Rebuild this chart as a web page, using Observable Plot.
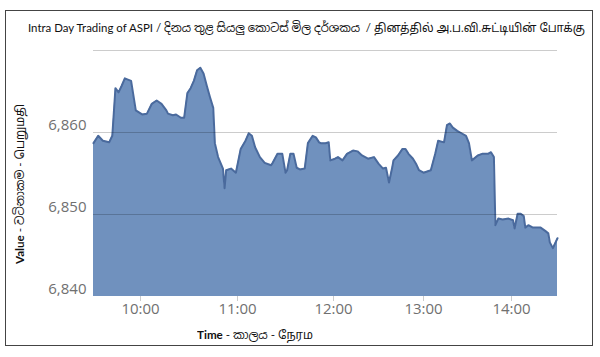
<!DOCTYPE html>
<html>
<head>
<meta charset="utf-8">
<script src="https://cdn.jsdelivr.net/npm/d3@7"></script>
<script src="https://cdn.jsdelivr.net/npm/@observablehq/plot@0.6"></script>
<style>
  html, body { margin: 0; padding: 0; background: #fff; }
  #wrap { position: relative; width: 600px; height: 357px; overflow: hidden; }
  #chart { position: absolute; left: 0; top: 0; }
  .ov { position: absolute; white-space: nowrap; color: #111;
        font-family: Lato, "Noto Sans Sinhala", "Noto Sans Tamil", "Noto Sans", sans-serif; }
  #frame { position: absolute; left: 5px; top: 10px; width: 588px; height: 336px;
           box-sizing: border-box; border: 1.5px solid #444; }
  #title { left: 28px; top: 20px; font-size: 12px; line-height: 16px; transform-origin: 0 50%; }
  #xtitle { left: 197px; top: 327px; font-size: 12px; line-height: 16px; transform-origin: 0 50%; }
  #ytitle { left: 20px; top: 184px; font-size: 12px; line-height: 16px; }
</style>
</head>
<body>
<div id="wrap">
  <div id="chart"></div>
  <div id="frame"></div>
  <div id="title" class="ov">Intra Day Trading of ASPI / දිනය තුළ සියලු කොටස් මිල දර්ශකය&nbsp; / தினத்தில் அ.ப.வி.சுட்டியின் போக்கு</div>
  <div id="xtitle" class="ov"><b>Time</b> - කාලය - நேரம</div>
  <div id="ytitle" class="ov"><b>Value</b> - වටිනාකම - பெறுமதி</div>
</div>
<script>
// Intraday ASPI readings (time of day, index value)
const times = [
  "09:30","09:33","09:36","09:40","09:42","09:44","09:46","09:48","09:50","09:54",
  "09:57","10:01","10:04","10:07","10:10","10:13","10:16","10:17","10:20","10:22",
  "10:25","10:27","10:29","10:31","10:33","10:35","10:37","10:39","10:41","10:43",
  "10:45","10:46","10:48","10:51","10:52","10:53","10:56","10:59","11:02","11:05",
  "11:07","11:09","11:11","11:14","11:17","11:21","11:22","11:25","11:28","11:30",
  "11:31","11:33","11:35","11:37","11:39","11:42","11:44","11:47","11:49","11:51",
  "11:52","11:55","11:57","11:58","12:01","12:03","12:06","12:09","12:13","12:16",
  "12:19","12:23","12:27","12:30","12:33","12:35","12:37","12:39","12:40","12:43",
  "12:46","12:48","12:50","12:53","12:55","12:57","13:00","13:05","13:08","13:10",
  "13:14","13:16","13:18","13:20","13:23","13:25","13:29","13:31","13:33","13:37",
  "13:40","13:44","13:46","13:48","13:49","13:51","13:54","13:58","14:01","14:02",
  "14:04","14:06","14:08","14:09","14:11","14:14","14:19","14:22","14:24","14:25",
  "14:27","14:30"
];
const values = [
  6858.7,6859.6,6859.0,6858.8,6859.6,6865.4,6864.9,6865.7,6866.6,6866.3,
  6862.7,6862.2,6862.3,6863.5,6863.9,6863.5,6862.7,6862.3,6862.1,6862.2,
  6861.8,6861.8,6864.8,6865.4,6866.3,6867.6,6867.9,6867.2,6865.7,6864.3,
  6863.0,6858.7,6857.0,6855.6,6853.2,6855.4,6855.6,6855.1,6858.0,6859.0,
  6859.9,6859.6,6858.2,6857.0,6856.3,6856.0,6856.3,6857.4,6857.4,6855.1,
  6855.4,6857.4,6857.4,6855.7,6855.5,6855.6,6858.7,6859.6,6859.4,6858.8,
  6858.7,6858.7,6858.8,6856.6,6856.8,6857.0,6856.6,6857.4,6857.8,6857.7,
  6857.2,6856.8,6857.0,6856.2,6855.6,6855.7,6853.9,6855.6,6856.6,6857.2,
  6858.0,6858.0,6857.4,6856.8,6856.2,6855.4,6855.1,6855.4,6857.4,6859.0,
  6858.8,6860.9,6861.1,6860.6,6860.2,6860.0,6859.6,6858.7,6856.6,6857.2,
  6857.4,6857.4,6857.6,6857.0,6848.7,6849.5,6849.4,6849.5,6849.3,6848.3,
  6850.1,6850.1,6849.8,6848.4,6848.7,6848.4,6848.4,6848.0,6847.7,6846.6,
  6845.9,6847.1
];
const xTickLabels = ["10:00","11:00","12:00","13:00","14:00"];
const yTicks = [6840, 6850, 6860];
const yGrid = [6850, 6860, 6870];
const yDomain = [6840, 6870];
const xBreaks = ["09:30","10:00","11:00","12:00","13:00","14:00","14:30"];

const toDate = s => { const [h, m] = s.split(":").map(Number); return new Date(Date.UTC(2020, 0, 1, h, m)); };
const data = times.map((t, i) => ({t: toDate(t), v: values[i]}));

const chart = Plot.plot({
  width: 600,
  height: 357,
  marginTop: 50,
  marginBottom: 61,
  marginLeft: 93,
  marginRight: 43,
  style: {background: "none", fontFamily: "'Open Sans', sans-serif", fontSize: "15px"},
  x: {type: "utc", domain: xBreaks.map(toDate), range: [93, 140, 237, 333, 423, 511, 557]},
  y: {domain: yDomain},
  marks: [
    Plot.areaY(data, {x: "t", y1: yDomain[0], y2: "v", fill: "#7091be"}),
    Plot.lineY(data, {x: "t", y: "v", stroke: "#4a6a9d", strokeWidth: 2}),
    Plot.gridY(yGrid, {stroke: "#000", strokeOpacity: 0.2}),
    Plot.axisX({ticks: xTickLabels.map(toDate), tickFormat: d3.utcFormat("%H:%M"),
      tickSize: 5, tickPadding: 2, stroke: "#ccc", fill: "#707070", label: null}),
    Plot.axisY({ticks: yTicks, tickFormat: d3.format(","), tickSize: 0, tickPadding: 7,
      dy: -7, fill: "#707070", label: null})
  ]
});
document.getElementById("chart").appendChild(chart);

// fit overlay texts to the widths they take in the reference
function fit(id, target) {
  const el = document.getElementById(id);
  const w = el.getBoundingClientRect().width;
  return Math.min(1, target / w);
}
const t = document.getElementById("title");
t.style.transform = `scaleX(${fit("title", 557)})`;
const xt = document.getElementById("xtitle");
xt.style.transform = `scaleX(${fit("xtitle", 116)})`;
const yt = document.getElementById("ytitle");
const ys = fit("ytitle", 160);
yt.style.transform = `translate(-50%, -50%) rotate(-90deg) scaleX(${ys})`;
</script>
</body>
</html>
